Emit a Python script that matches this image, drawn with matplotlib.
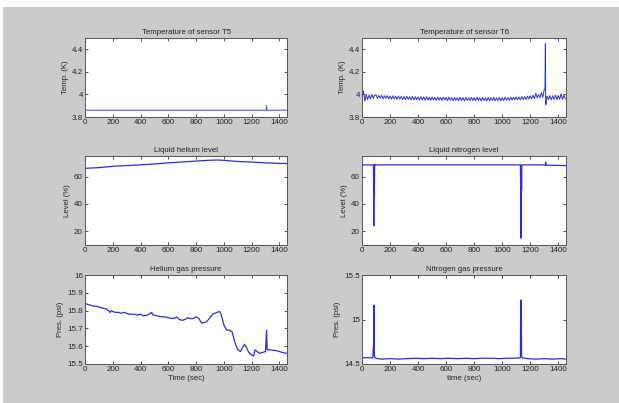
import numpy as np
import matplotlib
matplotlib.use("Agg")
import matplotlib.pyplot as plt
from matplotlib.patches import Rectangle

# ---------------- data ----------------
t5_time = [0, 1305, 1308, 1311, 1455]
t5_temp = [3.86, 3.86, 3.90, 3.86, 3.86]

t6_time = list(range(0, 1451, 10))
t6_temp = [
    3.970, 4.030, 3.940, 4.000, 3.955, 3.995, 3.960, 4.000, 3.965, 3.995,
    3.995, 3.965, 3.990, 3.968, 3.992, 3.962, 3.988, 3.966, 3.990, 3.960,
    3.985, 3.958, 3.988, 3.960, 3.984, 3.956, 3.986, 3.958, 3.982, 3.955,
    3.982, 3.954, 3.984, 3.956, 3.980, 3.952, 3.982, 3.950, 3.980, 3.954,
    3.978, 3.950, 3.981, 3.952, 3.977, 3.949, 3.980, 3.951, 3.976, 3.948,
    3.978, 3.950, 3.975, 3.947, 3.977, 3.949, 3.974, 3.946, 3.976, 3.950,
    3.973, 3.945, 3.975, 3.948, 3.972, 3.944, 3.974, 3.947, 3.971, 3.944,
    3.975, 3.946, 3.972, 3.943, 3.974, 3.947, 3.971, 3.945, 3.975, 3.946,
    3.972, 3.944, 3.976, 3.947, 3.971, 3.943, 3.974, 3.946, 3.970, 3.942,
    3.973, 3.945, 3.971, 3.947, 3.975, 3.944, 3.970, 3.946, 3.974, 3.943,
    3.971, 3.945, 3.975, 3.947, 3.972, 3.948, 3.977, 3.949, 3.975, 3.951,
    3.979, 3.951, 3.977, 3.953, 3.982, 3.955, 3.980, 3.956, 3.985, 3.959,
    3.987, 3.961, 3.993, 3.964, 4.010, 3.969, 3.999, 3.971, 4.015, 3.974,
    4.045, 3.950, 3.985, 3.955, 3.990, 3.952, 3.988, 3.956, 3.995, 3.954,
    3.990, 3.958, 4.005, 3.956, 3.995, 3.960,
]
t6_spike_time = [1305, 1308, 1311]
t6_spike_temp = [4.05, 4.45, 3.91]

he_level_time = [0, 100, 200, 300, 400, 500, 600, 700, 800, 900, 960,
                 1000, 1100, 1200, 1300, 1400, 1450]
he_level = [66.0, 66.5, 67.5, 68.0, 68.5, 69.2, 70.0, 70.6, 71.3, 71.9, 72.1,
            71.8, 71.0, 70.6, 70.0, 69.6, 69.5]

n2_level_time = [0, 80, 82, 84, 86, 88, 90, 95, 140, 1130, 1132, 1134, 1136,
                 1138, 1140, 1308, 1310, 1312, 1450]
n2_level = [68.5, 68.5, 68.0, 24.0, 68.0, 46.0, 69.0, 68.5, 68.5, 68.5, 48.0,
            15.0, 68.0, 50.0, 68.5, 68.5, 70.5, 68.3, 68.0]

he_p_time = [0, 20, 40, 60, 80, 100, 120, 150, 170, 180, 190, 200, 220, 240,
             260, 280, 300, 320, 350, 380, 400, 420, 450, 480, 490, 520, 550,
             580, 600, 640, 660, 680, 700, 720, 740, 760, 780, 800, 820, 840,
             870, 890, 920, 950, 970, 980, 1000, 1020, 1040, 1060, 1080, 1100,
             1120, 1140, 1150, 1165, 1180, 1200, 1215, 1225, 1240, 1260, 1300,
             1308, 1312, 1330, 1380, 1420, 1450]
he_p = [15.84, 15.835, 15.83, 15.825, 15.825, 15.82, 15.815, 15.81, 15.80,
        15.79, 15.80, 15.795, 15.79, 15.79, 15.785, 15.79, 15.785, 15.78,
        15.78, 15.775, 15.78, 15.77, 15.775, 15.79, 15.775, 15.77, 15.765,
        15.765, 15.76, 15.755, 15.765, 15.75, 15.745, 15.75, 15.76, 15.755,
        15.755, 15.765, 15.755, 15.73, 15.735, 15.75, 15.78, 15.79, 15.795,
        15.78, 15.72, 15.69, 15.69, 15.68, 15.62, 15.58, 15.57, 15.60, 15.61,
        15.59, 15.565, 15.55, 15.545, 15.58, 15.57, 15.56, 15.57, 15.69,
        15.58, 15.58, 15.575, 15.565, 15.56]

n2_p_time = [0, 78, 80, 84, 86, 88, 92, 110, 140, 200, 260, 320, 380, 440,
             500, 560, 620, 680, 740, 800, 860, 920, 980, 1040, 1100, 1130,
             1132, 1134, 1136, 1138, 1142, 1180, 1240, 1300, 1360, 1420, 1450]
n2_p = [14.57, 14.57, 14.70, 14.70, 15.16, 14.60, 14.57, 14.56, 14.555,
        14.56, 14.555, 14.56, 14.565, 14.56, 14.565, 14.56, 14.565, 14.56,
        14.565, 14.56, 14.565, 14.565, 14.56, 14.565, 14.565, 14.57,
        15.20, 15.22, 15.18, 14.60, 14.57, 14.56, 14.555, 14.56, 14.555,
        14.56, 14.555]

x_ticks = [0, 200, 400, 600, 800, 1000, 1200, 1400]

# ---------------- figure ----------------
plt.rcParams['font.family'] = ['Liberation Sans', 'DejaVu Sans']
W, H = 619, 403
fig = plt.figure(figsize=(W / 100, H / 100), dpi=100, facecolor='white')
fig.patches.append(Rectangle((3 / W, 0), 1, 1 - 7 / H, transform=fig.transFigure,
                             facecolor='#cbcbcb', edgecolor='none', zorder=-10))

def box(x0, y0, x1, y1):
    return [x0 / W, 1 - y1 / H, (x1 - x0) / W, (y1 - y0) / H]

LINE = '#2a2aee'
FS = 5.8

def style(ax, title, ylabel, ylim, yticks, yticklabels, xlabel=None):
    ax.set_xlim(0, 1455)
    ax.set_ylim(*ylim)
    ax.set_xticks(x_ticks)
    ax.set_xticklabels([str(v) for v in x_ticks])
    ax.set_yticks(yticks)
    ax.set_yticklabels(yticklabels)
    ax.tick_params(direction='in', length=2.5, width=0.6, top=True, right=True,
                   labelsize=FS, pad=1.5, colors='#333333', labelcolor='#222222')
    for s in ax.spines.values():
        s.set_linewidth(0.7)
        s.set_color('#555555')
    ax.set_title(title, fontsize=5.6, pad=3, color='#222222')
    ax.set_ylabel(ylabel, fontsize=5.6, labelpad=2, color='#222222')
    if xlabel:
        ax.set_xlabel(xlabel, fontsize=5.6, labelpad=1.5, color='#222222')
    ax.set_facecolor('white')

ax1 = fig.add_axes(box(85, 38, 287, 117))
ax2 = fig.add_axes(box(362, 38, 566, 117))
ax3 = fig.add_axes(box(85, 156, 287, 245))
ax4 = fig.add_axes(box(362, 156, 566, 245))
ax5 = fig.add_axes(box(85, 275, 287, 364))
ax6 = fig.add_axes(box(362, 275, 566, 364))

ax1.plot(t5_time, t5_temp, color='#5555ff', lw=0.8)
style(ax1, 'Temperature of sensor T5', 'Temp. (K)', (3.8, 4.5),
      [3.8, 4.0, 4.2, 4.4], ['3.8', '4', '4.2', '4.4'])

t6_all = sorted(zip(t6_time + t6_spike_time, t6_temp + t6_spike_temp))
ax2.plot([p[0] for p in t6_all], [p[1] for p in t6_all], color=LINE, lw=0.7)
style(ax2, 'Temperature of sensor T6', 'Temp. (K)', (3.8, 4.5),
      [3.8, 4.0, 4.2, 4.4], ['3.8', '4', '4.2', '4.4'])

ax3.plot(he_level_time, he_level, color=LINE, lw=0.9)
style(ax3, 'Liquid helium level', 'Level (%)', (10, 75),
      [20, 40, 60], ['20', '40', '60'])

ax4.plot(n2_level_time, n2_level, color=LINE, lw=0.9)
style(ax4, 'Liquid nitrogen level', 'Level (%)', (10, 75),
      [20, 40, 60], ['20', '40', '60'])

ax5.plot(he_p_time, he_p, color=LINE, lw=0.9)
style(ax5, 'Helium gas pressure', 'Pres. (psi)', (15.5, 16.0),
      [15.5, 15.6, 15.7, 15.8, 15.9, 16.0],
      ['15.5', '15.6', '15.7', '15.8', '15.9', '16'], xlabel='Time (sec)')

ax6.plot(n2_p_time, n2_p, color=LINE, lw=0.9)
style(ax6, 'Nitrogen gas pressure', 'Pres. (psi)', (14.5, 15.5),
      [14.5, 15.0, 15.5], ['14.5', '15', '15.5'], xlabel='time (sec)')

fig.savefig('out.png', dpi=100, facecolor='white')
